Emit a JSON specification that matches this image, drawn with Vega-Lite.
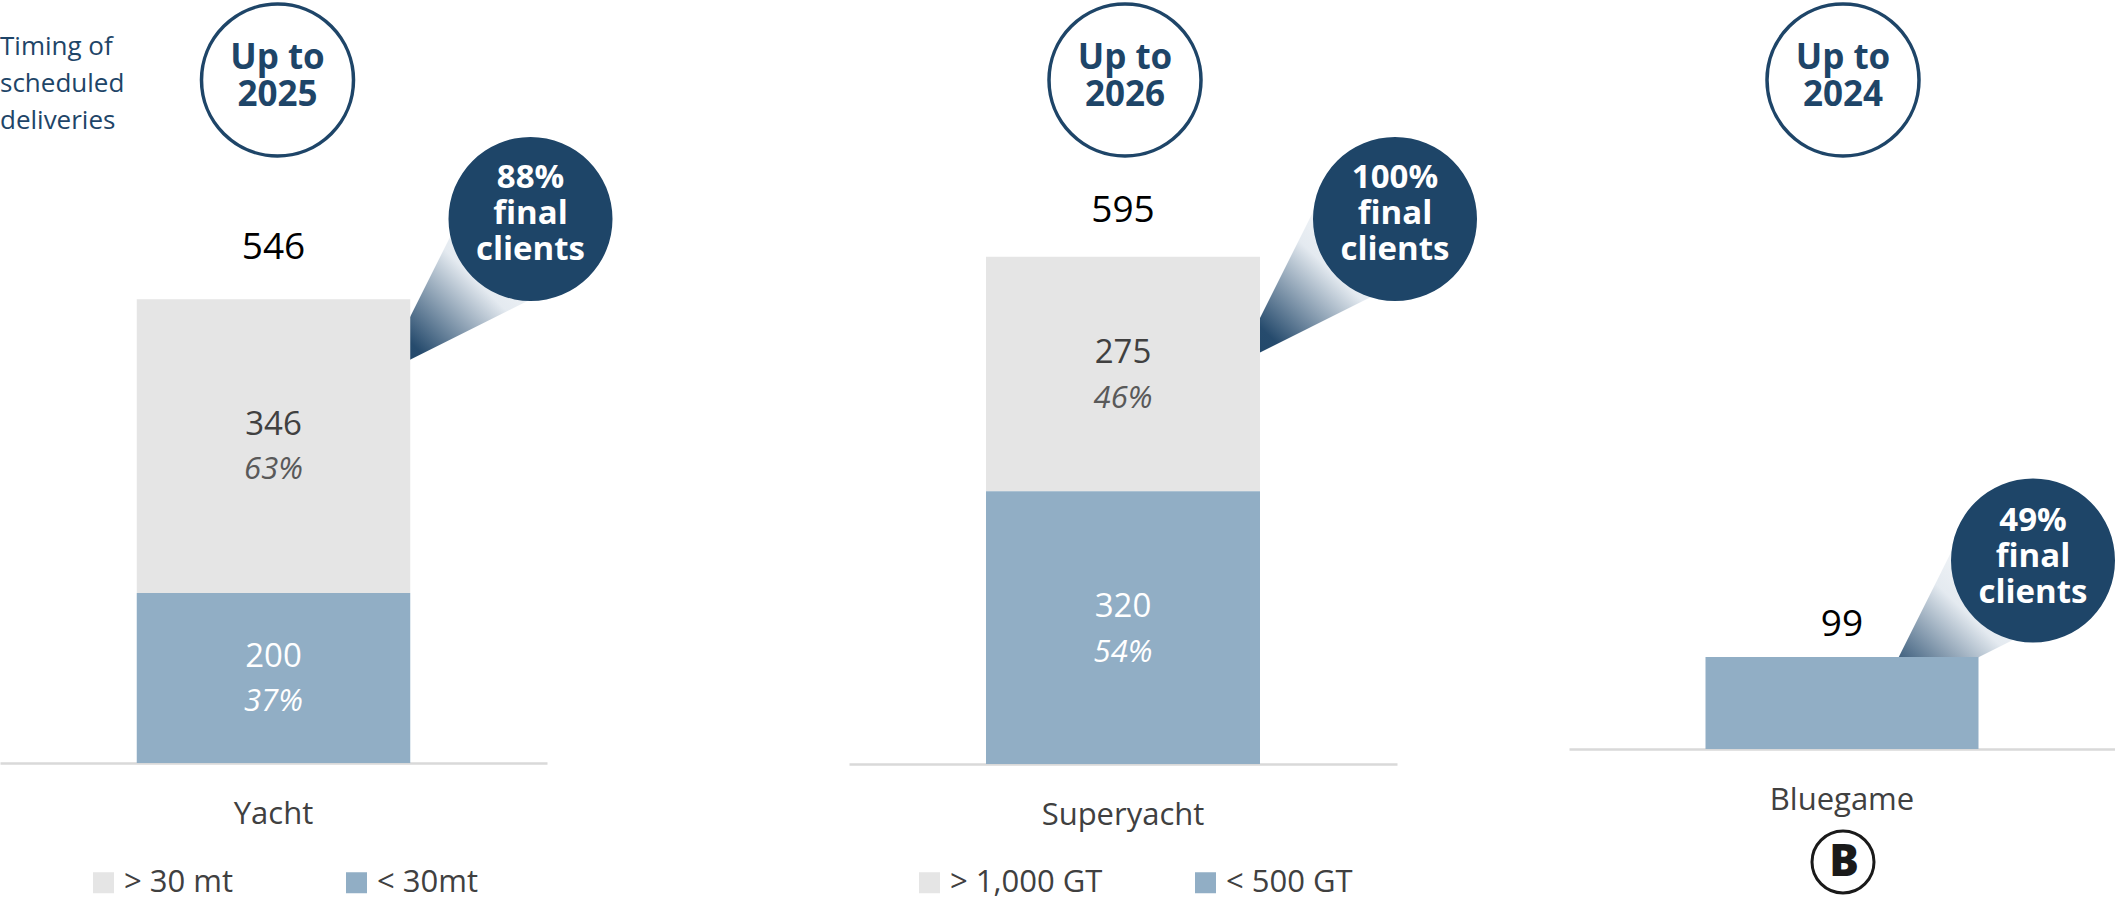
{
  "$schema": "https://vega.github.io/schema/vega-lite/v6.json",
  "padding": {"top": -4, "left": 0, "right": 0, "bottom": 0},
  "background": "white",
  "autosize": {"type": "pad"},
  "config": {"view": {"stroke": null}, "font": "Open Sans"},
  "datasets": {
    "deliveries": [
      {"vessel": "Yacht", "segment": "> 30 mt", "value": 346, "pct": "63%"},
      {"vessel": "Yacht", "segment": "< 30mt", "value": 200, "pct": "37%"},
      {"vessel": "Superyacht", "segment": "> 1,000 GT", "value": 275, "pct": "46%"},
      {"vessel": "Superyacht", "segment": "< 500 GT", "value": 320, "pct": "54%"},
      {"vessel": "Bluegame", "segment": "Bluegame", "value": 99, "pct": ""}
    ],
    "horizon": [
      {"vessel": "Yacht", "year": "2025", "final": "88%"},
      {"vessel": "Superyacht", "year": "2026", "final": "100%"},
      {"vessel": "Bluegame", "year": "2024", "final": "49%"}
    ]
  },
  "bounds": "flush",
  "spacing": 302,
  "resolve": {"scale": {"x": "independent", "y": "independent", "color": "independent"}, "legend": {"color": "independent"}},
  "hconcat": [
    {
      "width": 547,
      "height": 762,
      "encoding": {
        "x": {"field": "vessel", "type": "nominal", "scale": {"paddingInner": 0, "paddingOuter": 0.5},
          "axis": {"title": null, "domain": true, "domainColor": "#d9d9d9", "domainWidth": 2.5, "ticks": false, "grid": false, "labelFont": "Open Sans", "labelFontSize": 31, "labelColor": "#404040", "labelAngle": 0, "labelPadding": 60, "labelBaseline": "alphabetic"}}
      },
      "layer": [
        {
          "data": {"name": "horizon"},
          "transform": [{"filter": "datum.vessel == 'Yacht'"}],
          "mark": {"type": "point", "shape": "M-0.931,0.969L-0.356,-0.181L0.2,0.403Z", "size": 102400, "filled": true, "opacity": 1, "strokeWidth": 0, "xOffset": 257,
            "fill": {"gradient": "linear", "x1": 0, "y1": 1, "x2": 0.82, "y2": 0.16, "stops": [{"offset": 0, "color": "#1e4568"}, {"offset": 0.2, "color": "#264b6d"}, {"offset": 0.62, "color": "#e4eaf0"}, {"offset": 1, "color": "#ffffff"}]}},
          "encoding": {"y": {"datum": 640.4, "type": "quantitative", "scale": {"domain": [0, 897], "nice": false}, "axis": null}}
        },
        {
          "data": {"name": "deliveries"},
          "transform": [{"filter": "datum.vessel == 'Yacht'"}],
          "mark": {"type": "bar"},
          "encoding": {
            "y": {"field": "value", "type": "quantitative", "stack": "zero", "scale": {"domain": [0, 897], "nice": false}, "axis": null},
            "color": {"field": "segment", "type": "nominal", "scale": {"domain": ["> 30 mt", "< 30mt"], "range": ["#e5e5e5", "#91aec5"]},
              "legend": {"title": null, "orient": "none", "legendX": 88, "legendY": 866, "direction": "horizontal", "symbolType": "square", "symbolSize": 441, "symbolStrokeWidth": 0, "labelFont": "Open Sans", "labelFontSize": 31, "labelColor": "#404040", "labelOffset": 5, "columnPadding": 107, "padding": 0, "labelLimit": 400}},
            "order": {"field": "segment", "sort": "ascending"}
          }
        },
        {
          "data": {"name": "deliveries"},
          "transform": [{"filter": "datum.vessel == 'Yacht'"}, {"stack": "value", "groupby": ["vessel"], "sort": [{"field": "segment", "order": "ascending"}], "as": ["v0", "v1"]}, {"calculate": "(datum.v0 + datum.v1) / 2", "as": "mid"}],
          "mark": {"type": "text", "dy": -21, "fontSize": 33, "font": "Open Sans", "baseline": "middle"},
          "encoding": {"y": {"field": "mid", "type": "quantitative"}, "text": {"field": "value", "type": "quantitative"},
            "color": {"condition": {"test": "datum.v0 == 0", "value": "#ffffff"}, "value": "#404040"}}
        },
        {
          "data": {"name": "deliveries"},
          "transform": [{"filter": "datum.vessel == 'Yacht'"}, {"stack": "value", "groupby": ["vessel"], "sort": [{"field": "segment", "order": "ascending"}], "as": ["v0", "v1"]}, {"calculate": "(datum.v0 + datum.v1) / 2", "as": "mid"}],
          "mark": {"type": "text", "dy": 24, "fontSize": 31, "font": "Open Sans", "fontStyle": "italic", "baseline": "middle"},
          "encoding": {"y": {"field": "mid", "type": "quantitative"}, "text": {"field": "pct", "type": "nominal"},
            "color": {"condition": {"test": "datum.v0 == 0", "value": "#ffffff"}, "value": "#595959"}}
        },
        {
          "data": {"name": "deliveries"},
          "transform": [{"filter": "datum.vessel == 'Yacht'"}],
          "mark": {"type": "text", "dy": -51, "fontSize": 37, "font": "Open Sans", "color": "#000000", "baseline": "middle"},
          "encoding": {"y": {"aggregate": "sum", "field": "value", "type": "quantitative"}, "text": {"aggregate": "sum", "field": "value", "type": "quantitative"}}
        },
        {
          "data": {"name": "horizon"},
          "transform": [{"filter": "datum.vessel == 'Yacht'"}],
          "mark": {"type": "text", "text": ["Timing of", "scheduled", "deliveries"], "align": "left", "baseline": "top", "font": "Open Sans", "fontSize": 26, "color": "#1e4568", "lineHeight": 37},
          "encoding": {"x": {"field": "vessel", "type": "nominal", "bandPosition": -0.5}, "y": {"datum": 858, "type": "quantitative"}}
        },
        {
          "data": {"name": "horizon"},
          "transform": [{"filter": "datum.vessel == 'Yacht'"}],
          "mark": {"type": "point", "shape": "circle", "size": 23104, "filled": false, "stroke": "#1e4568", "strokeWidth": 3.5, "opacity": 1, "xOffset": 4},
          "encoding": {"y": {"datum": 804, "type": "quantitative"}}
        },
        {
          "data": {"name": "horizon"},
          "transform": [{"filter": "datum.vessel == 'Yacht'"}, {"calculate": "['Up to', datum.year]", "as": "badge"}],
          "mark": {"type": "text", "font": "Open Sans", "fontSize": 35, "fontWeight": "bold", "color": "#1e4568", "lineHeight": 37, "baseline": "middle", "dy": -22, "xOffset": 4},
          "encoding": {"y": {"datum": 804, "type": "quantitative"}, "text": {"field": "badge", "type": "nominal"}}
        },
        {
          "data": {"name": "horizon"},
          "transform": [{"filter": "datum.vessel == 'Yacht'"}],
          "mark": {"type": "point", "shape": "circle", "size": 26896, "filled": true, "fill": "#1e4568", "strokeWidth": 0, "opacity": 1, "xOffset": 257},
          "encoding": {"y": {"datum": 640.4, "type": "quantitative"}}
        },
        {
          "data": {"name": "horizon"},
          "transform": [{"filter": "datum.vessel == 'Yacht'"}, {"calculate": "[datum.final, 'final', 'clients']", "as": "callout"}],
          "mark": {"type": "text", "font": "Open Sans", "fontSize": 33, "fontWeight": "bold", "color": "#ffffff", "lineHeight": 36, "baseline": "middle", "dy": -41, "xOffset": 257},
          "encoding": {"y": {"datum": 640.4, "type": "quantitative"}, "text": {"field": "callout", "type": "nominal"}}
        }
      ]
    },
    {
      "bounds": "flush",
      "spacing": 172,
      "resolve": {"scale": {"x": "independent", "y": "independent", "color": "independent"}, "legend": {"color": "independent"}},
      "hconcat": [
        {
          "width": 548,
          "height": 763,
          "encoding": {
            "x": {"field": "vessel", "type": "nominal", "scale": {"paddingInner": 0, "paddingOuter": 0.5},
              "axis": {"title": null, "domain": true, "domainColor": "#d9d9d9", "domainWidth": 2.5, "ticks": false, "grid": false, "labelFont": "Open Sans", "labelFontSize": 31, "labelColor": "#404040", "labelAngle": 0, "labelPadding": 60, "labelBaseline": "alphabetic"}}
          },
          "layer": [
            {
              "data": {"name": "horizon"},
              "transform": [{"filter": "datum.vessel == 'Superyacht'"}],
              "mark": {"type": "point", "shape": "M-0.9875,0.906L-0.4275,-0.214L0.165,0.33Z", "size": 102400, "filled": true, "opacity": 1, "strokeWidth": 0, "xOffset": 272,
                "fill": {"gradient": "linear", "x1": 0, "y1": 1, "x2": 0.82, "y2": 0.16, "stops": [{"offset": 0, "color": "#1e4568"}, {"offset": 0.2, "color": "#264b6d"}, {"offset": 0.62, "color": "#e4eaf0"}, {"offset": 1, "color": "#ffffff"}]}},
              "encoding": {"y": {"datum": 639.3, "type": "quantitative", "scale": {"domain": [0, 895], "nice": false}, "axis": null}}
            },
            {
              "data": {"name": "deliveries"},
              "transform": [{"filter": "datum.vessel == 'Superyacht'"}],
              "mark": {"type": "bar"},
              "encoding": {
                "y": {"field": "value", "type": "quantitative", "stack": "zero", "scale": {"domain": [0, 895], "nice": false}, "axis": null},
                "color": {"field": "segment", "type": "nominal", "scale": {"domain": ["> 1,000 GT", "< 500 GT"], "range": ["#e5e5e5", "#91aec5"]},
                  "legend": {"title": null, "orient": "none", "legendX": 65, "legendY": 866, "direction": "horizontal", "symbolType": "square", "symbolSize": 441, "symbolStrokeWidth": 0, "labelFont": "Open Sans", "labelFontSize": 31, "labelColor": "#404040", "labelOffset": 5, "columnPadding": 87, "padding": 0, "labelLimit": 400}},
                "order": {"field": "segment", "sort": "ascending"}
              }
            },
            {
              "data": {"name": "deliveries"},
              "transform": [{"filter": "datum.vessel == 'Superyacht'"}, {"stack": "value", "groupby": ["vessel"], "sort": [{"field": "segment", "order": "ascending"}], "as": ["v0", "v1"]}, {"calculate": "(datum.v0 + datum.v1) / 2", "as": "mid"}],
              "mark": {"type": "text", "dy": -21, "fontSize": 33, "font": "Open Sans", "baseline": "middle"},
              "encoding": {"y": {"field": "mid", "type": "quantitative"}, "text": {"field": "value", "type": "quantitative"},
                "color": {"condition": {"test": "datum.v0 == 0", "value": "#ffffff"}, "value": "#404040"}}
            },
            {
              "data": {"name": "deliveries"},
              "transform": [{"filter": "datum.vessel == 'Superyacht'"}, {"stack": "value", "groupby": ["vessel"], "sort": [{"field": "segment", "order": "ascending"}], "as": ["v0", "v1"]}, {"calculate": "(datum.v0 + datum.v1) / 2", "as": "mid"}],
              "mark": {"type": "text", "dy": 25, "fontSize": 31, "font": "Open Sans", "fontStyle": "italic", "baseline": "middle"},
              "encoding": {"y": {"field": "mid", "type": "quantitative"}, "text": {"field": "pct", "type": "nominal"},
                "color": {"condition": {"test": "datum.v0 == 0", "value": "#ffffff"}, "value": "#595959"}}
            },
            {
              "data": {"name": "deliveries"},
              "transform": [{"filter": "datum.vessel == 'Superyacht'"}],
              "mark": {"type": "text", "dy": -46, "fontSize": 37, "font": "Open Sans", "color": "#000000", "baseline": "middle"},
              "encoding": {"y": {"aggregate": "sum", "field": "value", "type": "quantitative"}, "text": {"aggregate": "sum", "field": "value", "type": "quantitative"}}
            },
            {
              "data": {"name": "horizon"},
              "transform": [{"filter": "datum.vessel == 'Superyacht'"}],
              "mark": {"type": "point", "shape": "circle", "size": 23104, "filled": false, "stroke": "#1e4568", "strokeWidth": 3.5, "opacity": 1, "xOffset": 2},
              "encoding": {"y": {"datum": 802.3, "type": "quantitative"}}
            },
            {
              "data": {"name": "horizon"},
              "transform": [{"filter": "datum.vessel == 'Superyacht'"}, {"calculate": "['Up to', datum.year]", "as": "badge"}],
              "mark": {"type": "text", "font": "Open Sans", "fontSize": 35, "fontWeight": "bold", "color": "#1e4568", "lineHeight": 37, "baseline": "middle", "dy": -22, "xOffset": 2},
              "encoding": {"y": {"datum": 802.3, "type": "quantitative"}, "text": {"field": "badge", "type": "nominal"}}
            },
            {
              "data": {"name": "horizon"},
              "transform": [{"filter": "datum.vessel == 'Superyacht'"}],
              "mark": {"type": "point", "shape": "circle", "size": 26896, "filled": true, "fill": "#1e4568", "strokeWidth": 0, "opacity": 1, "xOffset": 272},
              "encoding": {"y": {"datum": 639.3, "type": "quantitative"}}
            },
            {
              "data": {"name": "horizon"},
              "transform": [{"filter": "datum.vessel == 'Superyacht'"}, {"calculate": "[datum.final, 'final', 'clients']", "as": "callout"}],
              "mark": {"type": "text", "font": "Open Sans", "fontSize": 33, "fontWeight": "bold", "color": "#ffffff", "lineHeight": 36, "baseline": "middle", "dy": -41, "xOffset": 272},
              "encoding": {"y": {"datum": 639.3, "type": "quantitative"}, "text": {"field": "callout", "type": "nominal"}}
            }
          ]
        },
        {
          "width": 546,
          "height": 748,
          "encoding": {
            "x": {"field": "vessel", "type": "nominal", "scale": {"paddingInner": 0, "paddingOuter": 0.5},
              "axis": {"title": null, "domain": true, "domainColor": "#d9d9d9", "domainWidth": 2.5, "ticks": false, "grid": false, "labelFont": "Open Sans", "labelFontSize": 31, "labelColor": "#404040", "labelAngle": 0, "labelPadding": 60, "labelBaseline": "alphabetic"}}
          },
          "layer": [
            {
              "data": {"name": "horizon"},
              "transform": [{"filter": "datum.vessel == 'Bluegame'"}],
              "mark": {"type": "point", "shape": "M-1.006,0.9375L-0.43,-0.215L0.174,0.3475Z", "size": 102400, "filled": true, "opacity": 1, "strokeWidth": 0, "xOffset": 191,
                "fill": {"gradient": "linear", "x1": 0, "y1": 1, "x2": 0.82, "y2": 0.16, "stops": [{"offset": 0, "color": "#1e4568"}, {"offset": 0.2, "color": "#264b6d"}, {"offset": 0.62, "color": "#e4eaf0"}, {"offset": 1, "color": "#ffffff"}]}},
              "encoding": {"y": {"datum": 202.9, "type": "quantitative", "scale": {"domain": [0, 805], "nice": false}, "axis": null}}
            },
            {
              "data": {"name": "deliveries"},
              "transform": [{"filter": "datum.vessel == 'Bluegame'"}],
              "mark": {"type": "bar", "color": "#91aec5"},
              "encoding": {"y": {"field": "value", "type": "quantitative", "scale": {"domain": [0, 805], "nice": false}, "axis": null}}
            },
            {
              "data": {"name": "deliveries"},
              "transform": [{"filter": "datum.vessel == 'Bluegame'"}],
              "mark": {"type": "text", "dy": -32, "fontSize": 37, "font": "Open Sans", "color": "#000000", "baseline": "middle"},
              "encoding": {"y": {"aggregate": "sum", "field": "value", "type": "quantitative"}, "text": {"aggregate": "sum", "field": "value", "type": "quantitative"}}
            },
            {
              "data": {"name": "horizon"},
              "transform": [{"filter": "datum.vessel == 'Bluegame'"}],
              "mark": {"type": "point", "shape": "circle", "size": 23104, "filled": false, "stroke": "#1e4568", "strokeWidth": 3.5, "opacity": 1, "xOffset": 1},
              "encoding": {"y": {"datum": 720, "type": "quantitative"}}
            },
            {
              "data": {"name": "horizon"},
              "transform": [{"filter": "datum.vessel == 'Bluegame'"}, {"calculate": "['Up to', datum.year]", "as": "badge"}],
              "mark": {"type": "text", "font": "Open Sans", "fontSize": 35, "fontWeight": "bold", "color": "#1e4568", "lineHeight": 37, "baseline": "middle", "dy": -22, "xOffset": 1},
              "encoding": {"y": {"datum": 720, "type": "quantitative"}, "text": {"field": "badge", "type": "nominal"}}
            },
            {
              "data": {"name": "horizon"},
              "transform": [{"filter": "datum.vessel == 'Bluegame'"}],
              "mark": {"type": "point", "shape": "circle", "size": 26896, "filled": true, "fill": "#1e4568", "strokeWidth": 0, "opacity": 1, "xOffset": 191},
              "encoding": {"y": {"datum": 202.9, "type": "quantitative"}}
            },
            {
              "data": {"name": "horizon"},
              "transform": [{"filter": "datum.vessel == 'Bluegame'"}, {"calculate": "[datum.final, 'final', 'clients']", "as": "callout"}],
              "mark": {"type": "text", "font": "Open Sans", "fontSize": 33, "fontWeight": "bold", "color": "#ffffff", "lineHeight": 36, "baseline": "middle", "dy": -39, "xOffset": 191},
              "encoding": {"y": {"datum": 202.9, "type": "quantitative"}, "text": {"field": "callout", "type": "nominal"}}
            },
            {
              "data": {"name": "horizon"},
              "transform": [{"filter": "datum.vessel == 'Bluegame'"}],
              "mark": {"type": "point", "shape": "circle", "size": 3844, "filled": false, "stroke": "#1a1a1a", "strokeWidth": 3, "opacity": 1, "xOffset": 1},
              "encoding": {"y": {"datum": -121.6, "type": "quantitative"}}
            },
            {
              "data": {"name": "horizon"},
              "transform": [{"filter": "datum.vessel == 'Bluegame'"}],
              "mark": {"type": "text", "text": "B", "font": "Open Sans", "fontSize": 44, "fontWeight": 800, "color": "#1a1a1a", "baseline": "middle", "dy": 1, "xOffset": 2},
              "encoding": {"y": {"datum": -121.6, "type": "quantitative"}}
            }
          ]
        }
      ]
    }
  ]
}
